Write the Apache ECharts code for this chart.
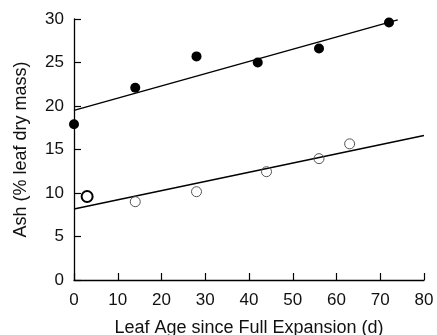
<!DOCTYPE html>
<html>
<head>
<meta charset="utf-8">
<script src="https://cdn.jsdelivr.net/npm/echarts@6/dist/echarts.min.js"></script>
<style>html,body{margin:0;padding:0;background:#fff;}#c{width:437px;height:335px;}</style>
</head>
<body>
<div id="c"></div>
<script>
// Data
const filledX = [0, 14, 28, 42, 56, 72];
const filledY = [17.9, 22.1, 25.7, 25.0, 26.6, 29.6];
const openX = [3, 14, 28, 44, 56, 63];
const openY = [9.6, 9.0, 10.15, 12.45, 13.95, 15.65];
const fitHighX = [0, 74];
const fitHighY = [19.5, 29.9];
const fitLowX = [0, 80];
const fitLowY = [8.15, 16.6];
const xTicks = [0, 10, 20, 30, 40, 50, 60, 70, 80];
const yTicks = [0, 5, 10, 15, 20, 25, 30];
const xTitle = 'Leaf Age since Full Expansion (d)';
const yTitle = 'Ash (% leaf dry mass)';

const zip = (a, b) => a.map((v, i) => [v, b[i]]);
const font = '"Liberation Sans", Arial, Helvetica, sans-serif';

const openData = zip(openX, openY).map((p, i) => i === 0
  ? { value: p, symbolSize: 11, itemStyle: { borderColor: '#000', borderWidth: 2 } }
  : { value: p });

const axisCommon = {
  type: 'value',
  axisLine: { show: true, lineStyle: { color: '#000', width: 1.3 } },
  axisTick: { show: true, inside: true, length: 7, lineStyle: { color: '#000', width: 1.2 } },
  splitLine: { show: false },
  axisLabel: { color: '#111', fontSize: 17, fontFamily: font },
  nameLocation: 'middle',
  nameTextStyle: { color: '#111', fontSize: 18, fontFamily: font }
};

const chart = echarts.init(document.getElementById('c'), null, { renderer: 'canvas' });
chart.setOption({
  animation: false,
  backgroundColor: '#fff',
  grid: { left: 74, right: 13, top: 19, bottom: 55, containLabel: false, outerBoundsMode: 'none' },
  xAxis: Object.assign({}, axisCommon, {
    min: xTicks[0], max: xTicks[xTicks.length - 1], interval: xTicks[1] - xTicks[0],
    name: xTitle, nameGap: 39,
    axisLabel: Object.assign({}, axisCommon.axisLabel, { margin: 12 })
  }),
  yAxis: Object.assign({}, axisCommon, {
    min: yTicks[0], max: yTicks[yTicks.length - 1], interval: yTicks[1] - yTicks[0],
    name: yTitle, nameGap: 44,
    axisLabel: Object.assign({}, axisCommon.axisLabel, { margin: 10 })
  }),
  series: [
    { type: 'line', data: zip(fitHighX, fitHighY), showSymbol: false, symbol: 'none',
      lineStyle: { color: '#000', width: 1.5 }, z: 2 },
    { type: 'line', data: zip(fitLowX, fitLowY), showSymbol: false, symbol: 'none',
      lineStyle: { color: '#000', width: 1.5 }, z: 2 },
    { type: 'scatter', data: zip(filledX, filledY), symbol: 'circle', symbolSize: 10,
      itemStyle: { color: '#000', opacity: 1 }, z: 3 },
    { type: 'scatter', data: openData, symbol: 'circle', symbolSize: 10,
      itemStyle: { color: 'rgba(255,255,255,0)', borderColor: '#555', borderWidth: 1, opacity: 1 }, z: 3 }
  ]
});
</script>
</body>
</html>
